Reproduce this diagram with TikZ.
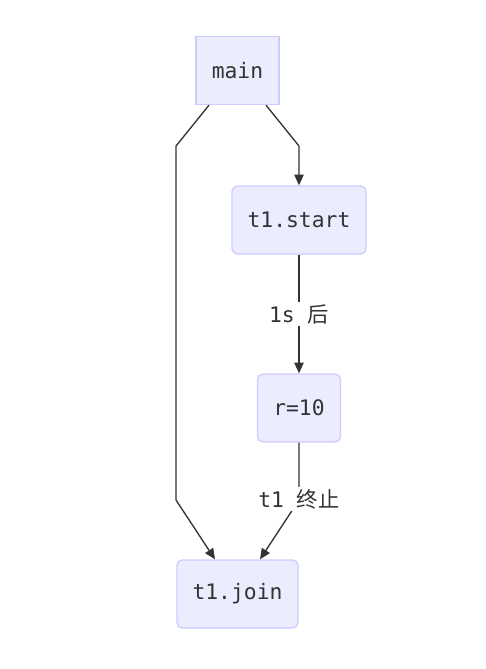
\documentclass[tikz,border=0pt]{standalone}
\usepackage{fontspec}
\usepackage{xcolor}
\setmonofont{DejaVu Sans Mono}
\newfontfamily\cjkfont{Noto Sans CJK SC}
\usetikzlibrary{arrows.meta, calc}

\definecolor{boxfill}{HTML}{ECECFF}
\definecolor{boxline}{HTML}{CCCCFF}
\definecolor{inkline}{HTML}{333333}

\begin{document}
\begin{tikzpicture}[x=0.75pt, y=-0.75pt, font=\ttfamily\fontsize{16}{19}\selectfont]
            \tikzstyle{box} = [draw=boxline, fill=boxfill, line width=1pt, minimum height=51pt, inner sep=0pt, text=inkline]
            \tikzstyle{stepbox} = [box, rounded corners=4pt]
            \tikzstyle{flow} = [draw=inkline, line width=1pt, -{Triangle[length=8pt, width=7pt]}]
            \tikzstyle{tag} = [fill=white, inner sep=2pt, text=inkline]
            \useasboundingbox (0,0) rectangle (486,669);

            \node [box, minimum width=62.25pt] (main) at (237.5,70.5) {main};
            \node [stepbox, minimum width=100.5pt] (start) at (299,220) {t1.start};
            \node [stepbox, minimum width=62.25pt] (r10) at (299,408) {r=10};
            \node [stepbox, minimum width=90.75pt] (join) at (237.5,594) {t1.join};

            \draw [flow] ($(main.south)+(28.5,0)$) -- (299,146) -- (start.north);
            \draw [flow] ($(main.south)+(-28.5,0)$) -- (176,146) -- (176,500) -- ($(join.north)+(-22.5,0)$);
            \draw [flow] (start) -- node [tag] {1s {\cjkfont 后}} (r10);
            \draw [flow] (r10.south) -- (299,500) -- ($(join.north)+(22.5,0)$);
            \node [tag] (stop) at (299,499) {t1 {\cjkfont 终止}};
\end{tikzpicture}
\end{document}
